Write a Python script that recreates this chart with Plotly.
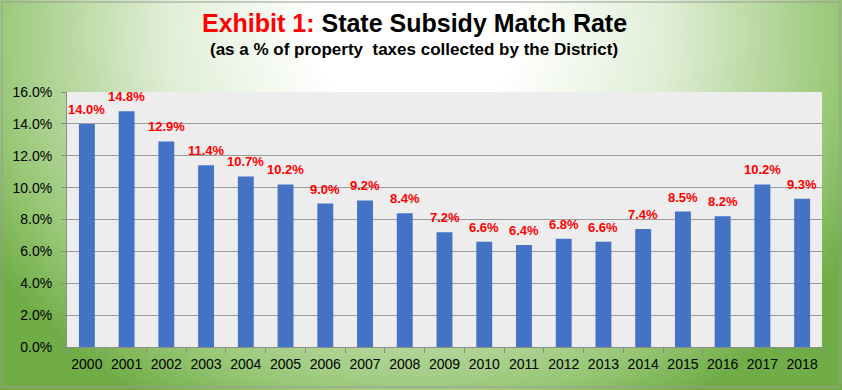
import base64
import plotly.graph_objects as go

years = ["2000", "2001", "2002", "2003", "2004", "2005", "2006", "2007", "2008", "2009",
         "2010", "2011", "2012", "2013", "2014", "2015", "2016", "2017", "2018"]
match_rate = [14.0, 14.8, 12.9, 11.4, 10.7, 10.2, 9.0, 9.2, 8.4, 7.2,
              6.6, 6.4, 6.8, 6.6, 7.4, 8.5, 8.2, 10.2, 9.3]
y_ticks = [0, 2, 4, 6, 8, 10, 12, 14, 16]

W, H = 842, 390
ML, MR, MT, MB = 67, 20, 92, 43
PW, PH = W - ML - MR, H - MT - MB

svg = f'''<svg xmlns="http://www.w3.org/2000/svg" width="{W}" height="{H}" viewBox="0 0 {W} {H}">
<defs><radialGradient id="g" gradientUnits="userSpaceOnUse" cx="0" cy="0" r="1"
 gradientTransform="translate(416,35) scale(500,430)">
<stop offset="0" stop-color="#ffffff"/>
<stop offset="0.2" stop-color="#ffffff"/>
<stop offset="0.5" stop-color="#e0eed6"/>
<stop offset="0.85" stop-color="#98c776"/>
<stop offset="1" stop-color="#70ad47"/>
</radialGradient></defs>
<rect x="0" y="0" width="{W}" height="{H}" fill="url(#g)"/>
</svg>'''
src = "data:image/svg+xml;base64," + base64.b64encode(svg.encode()).decode()

FONT = "Liberation Sans, Arial, sans-serif"

fig = go.Figure()
fig.add_trace(go.Bar(
    x=years, y=match_rate,
    marker=dict(color="#4472C4", line=dict(width=0)),
    hoverinfo="skip",
))

label_annotations = [
    dict(x=i, y=v, xref="x", yref="y", text=f"{v:.1f}%", showarrow=False,
         xanchor="center", yanchor="bottom", yshift=5,
         font=dict(color="#FF0000", size=13, family=FONT, weight="bold"))
    for i, v in enumerate(match_rate)
]

cx = (414 - ML) / PW
fig.update_layout(
    width=W, height=H,
    margin=dict(l=ML, r=MR, t=MT, b=MB),
    paper_bgcolor="white",
    plot_bgcolor="rgba(0,0,0,0)",
    bargap=0.6,
    showlegend=False,
    font=dict(family=FONT, size=14, color="#000000"),
    images=[dict(source=src, xref="paper", yref="paper",
                 x=-ML / PW, y=1 + MT / PH, sizex=W / PW, sizey=H / PH,
                 xanchor="left", yanchor="top", sizing="stretch", layer="below")],
    annotations=[
        dict(text='<span style="color:#FF0000">Exhibit 1:</span> State Subsidy Match Rate',
             xref="paper", yref="paper", x=cx, y=1 + (MT - 23) / PH,
             xanchor="center", yanchor="middle", showarrow=False,
             font=dict(family=FONT, size=25, color="#000000", weight="bold")),
        dict(text="(as a % of property  taxes collected by the District)",
             xref="paper", yref="paper", x=cx, y=1 + (MT - 50) / PH,
             xanchor="center", yanchor="middle", showarrow=False,
             font=dict(family=FONT, size=17, color="#000000", weight="bold")),
    ] + label_annotations,
    shapes=[
        dict(type="rect", xref="x domain", yref="y domain", x0=0, x1=1, y0=0, y1=1,
             line=dict(width=0), fillcolor="#EDEDED", layer="below"),
        dict(type="rect", xref="paper", yref="paper",
             x0=(2 - ML) / PW, x1=(W - 2 - ML) / PW,
             y0=-(MB - 3) / PH, y1=1 + (MT - 2) / PH,
             line=dict(color="#9a9a9a", width=1), fillcolor="rgba(0,0,0,0)", layer="below"),
    ],
)

fig.update_xaxes(
    type="category",
    range=[-0.5, len(years) - 0.5],
    showgrid=False,
    showline=True, linecolor="#8c8c8c", linewidth=1,
    ticks="outside", tickson="boundaries", ticklen=5, tickcolor="#8c8c8c",
    tickangle=0, ticklabelstandoff=4,
    tickfont=dict(size=14),
)
fig.update_yaxes(
    range=[0, 16],
    tickvals=y_ticks,
    ticktext=[f"{v:.1f}%" for v in y_ticks],
    showgrid=True, gridcolor="#9a9a9a", gridwidth=1,
    showline=True, linecolor="#8c8c8c", linewidth=1,
    ticks="outside", ticklen=5, tickcolor="#8c8c8c", ticklabelstandoff=6,
    zeroline=False,
    tickfont=dict(size=14),
)

fig.write_html("out.html", config={"displayModeBar": False},
               post_script="document.body.style.margin='0';document.body.style.overflow='hidden';")
